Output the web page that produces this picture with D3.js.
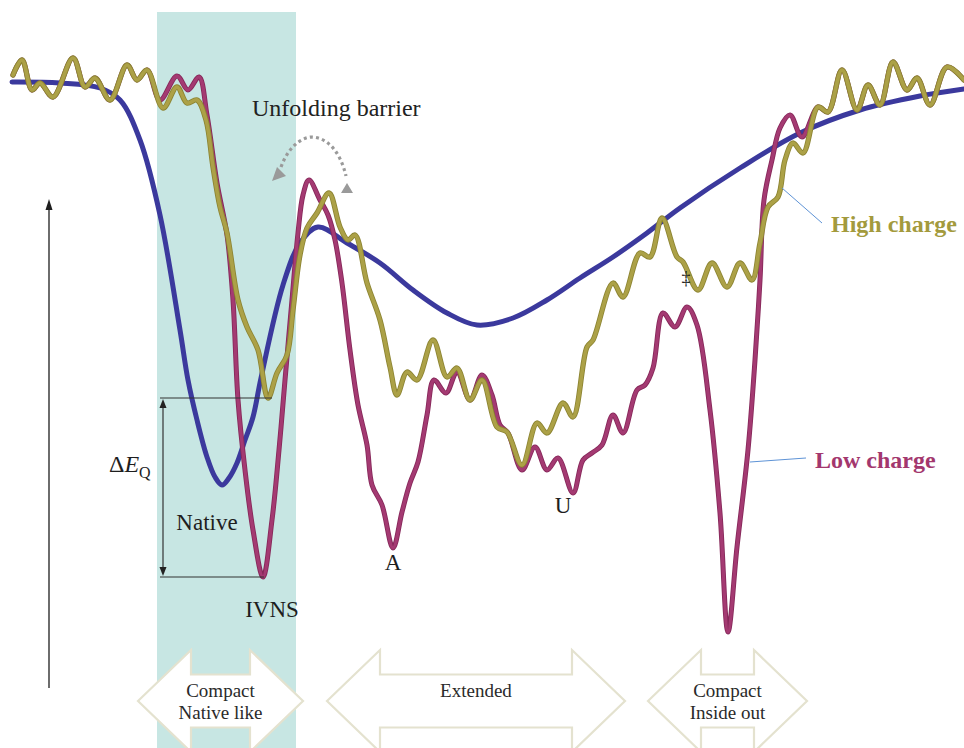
<!DOCTYPE html>
<html>
<head>
<meta charset="utf-8">
<script src="https://cdn.jsdelivr.net/npm/d3@7"></script>
<style>
  html, body { margin: 0; padding: 0; background: #ffffff; }
  svg { display: block; }
  text { font-family: "Liberation Serif", "DejaVu Serif", serif; }
</style>
</head>
<body>
<svg id="chart" width="964" height="748"></svg>
<script>
// Schematic energy landscape: reaction coordinate (x) vs energy (y), arbitrary units.

// Neutral protein landscape (smooth curve)
const neutralPath = [
  [1.2, 55.8], [6.0, 55.7], [10.0, 55.2], [12.0, 54.0], [14.0, 50.0], [16.0, 42.5],
  [18.0, 31.0], [18.8, 26.0], [19.7, 22.0], [20.7, 18.3], [21.5, 16.3], [22.2, 15.5],
  [22.9, 16.2], [23.7, 17.7], [24.5, 20.0], [25.3, 22.3], [26.1, 26.2], [28.3, 35.5],
  [30.0, 39.7], [31.8, 41.3], [34.7, 39.7], [38.0, 37.7], [41.3, 35.0], [44.7, 32.7],
  [47.7, 31.5], [51.3, 32.2], [54.7, 34.0], [58.0, 36.2], [61.3, 38.3], [64.7, 40.7],
  [68.0, 43.2], [74.0, 47.2], [80.0, 50.7], [86.0, 53.0], [92.0, 54.4], [96.4, 55.1]
];

// Rugged segment common to both charge states on the left (unfolded high-energy plateau)
const sharedStart = [
  [1.3, 56.5], [2.2, 58.0], [3.2, 55.0], [4.0, 55.7], [5.3, 54.3], [7.3, 58.2],
  [8.5, 55.3], [9.5, 56.2], [11.0, 54.0], [12.7, 57.5], [13.7, 56.0], [14.7, 57.0]
];

// Rugged segment common to both charge states on the right
const sharedEnd = [
  [81.8, 53.3], [82.8, 52.8], [84.2, 57.0], [85.7, 53.0], [86.8, 55.5], [88.0, 53.5],
  [89.3, 57.8], [90.7, 55.0], [91.7, 56.2], [93.0, 53.5], [94.7, 57.3], [96.4, 56.0]
];

// Low charge state: deep native well (IVNS), A and U states, inside-out well
const lowChargeMid = [
  [16.0, 54.0], [17.7, 56.4], [18.8, 55.0], [19.9, 56.3], [20.7, 52.5], [21.7, 45.7],
  [22.7, 40.5], [23.3, 34.0], [23.8, 24.0], [24.5, 17.0], [25.3, 11.0], [26.3, 6.3],
  [27.2, 12.0], [27.9, 19.0], [28.5, 26.0], [29.2, 34.0], [29.8, 40.7], [30.3, 44.5],
  [30.9, 46.0], [32.0, 44.0], [32.8, 42.5], [33.5, 40.0], [34.2, 35.7], [35.0, 29.0],
  [35.8, 23.5], [36.7, 19.5], [37.2, 15.5], [38.2, 13.5], [39.3, 9.2], [40.2, 12.8],
  [41.0, 15.7], [41.8, 17.8], [42.7, 22.5], [43.4, 26.0], [44.6, 24.7], [45.7, 26.8],
  [47.0, 24.0], [48.2, 26.5], [49.2, 24.5], [50.0, 21.5], [50.8, 20.7], [52.2, 17.0],
  [53.5, 19.3], [54.7, 17.0], [55.8, 18.2], [57.3, 14.7], [58.3, 18.0], [59.2, 18.7],
  [60.2, 19.5], [61.3, 22.5], [62.3, 20.7], [63.7, 25.0], [64.5, 25.5], [65.3, 27.2],
  [66.3, 32.7], [67.5, 31.3], [68.7, 33.3], [69.7, 31.5], [71.0, 23.0], [72.0, 12.7],
  [72.8, 0.8], [73.7, 9.3], [74.8, 19.0], [75.5, 28.0], [76.0, 36.0], [76.4, 44.0],
  [77.2, 48.0], [78.0, 51.2], [79.0, 52.5], [80.2, 50.3]
];

// High charge state: shallower native well, barrier, extended states
const highChargeMid = [
  [16.3, 53.2], [17.7, 55.3], [18.7, 53.7], [19.7, 54.0], [20.6, 52.0], [21.3, 47.3],
  [22.0, 43.3], [22.7, 40.7], [23.8, 34.0], [24.7, 31.3], [25.8, 29.0], [26.8, 24.2],
  [27.7, 26.7], [28.7, 28.5], [29.3, 33.0], [30.0, 38.5], [30.7, 41.2], [31.7, 42.7],
  [32.9, 44.7], [34.0, 41.3], [34.8, 40.0], [35.5, 40.5], [36.7, 35.7], [38.0, 32.0],
  [39.0, 27.3], [39.7, 24.5], [40.7, 26.8], [41.7, 26.0], [43.3, 30.0], [44.7, 26.3],
  [45.7, 27.2], [47.0, 24.0], [48.2, 26.0], [49.7, 21.3], [50.7, 20.8], [52.2, 17.5],
  [53.7, 21.7], [54.7, 20.7], [56.3, 23.7], [57.3, 22.3], [58.7, 29.3], [59.3, 30.0],
  [61.3, 35.7], [62.3, 34.3], [64.0, 38.7], [65.0, 38.3], [66.2, 42.2], [67.7, 38.3],
  [68.3, 37.8], [69.8, 35.0], [71.2, 37.7], [72.7, 35.3], [74.0, 37.7], [75.2, 36.0],
  [76.0, 39.7], [76.8, 43.3], [77.8, 44.3], [78.5, 48.0], [79.3, 49.7], [80.3, 48.7]
];

const lowCharge = [...sharedStart, ...lowChargeMid, ...sharedEnd];
const highCharge = [...sharedStart, ...highChargeMid, ...sharedEnd];

// Native-like region highlighted in the background
const nativeBand = [15.7, 29.6];

// Conformational families along the reaction coordinate
const regionLabels = [["Compact", "Native like"], ["Extended"], ["Compact", "Inside out"]];
const regionSpans = [[13.8, 30.3], [32.7, 62.5], [64.8, 80.7]];

// Labelled states: [label, x, energy]
const stateLabels = [["IVNS", 27.2, 2.3], ["A", 39.3, 7.0], ["U", 56.3, 12.7], ["Native", 20.7, 11.0]];

// ---------------------------------------------------------------------------
const svg = d3.select("#chart");
const W = 964, H = 748;

const x = d3.scaleLinear().domain([0, 96.4]).range([0, 964]);
const y = d3.scaleLinear().domain([0, 64]).range([640, 0]);

const colors = {
  neutral: "#3b399d",
  low: "#a43a72", lowEdge: "#86285a",
  high: "#aca147", highEdge: "#8c8432",
  band: "#c7e6e3",
  arrowEdge: "#e4e2cf",
  ink: "#1e1e1e",
  leader: "#5e93d6",
  dotted: "#9a9a9a"
};

// Background band for the native-like region
svg.append("rect")
  .attr("x", x(nativeBand[0]))
  .attr("y", 12)
  .attr("width", x(nativeBand[1]) - x(nativeBand[0]))
  .attr("height", H - 12)
  .attr("fill", colors.band);

// Double-headed block arrows naming the conformational families
const arrowY = 701, headHalf = 51, shaftHalf = 26.5, headLen = 53;
const regionG = svg.append("g");
regionSpans.forEach((span, i) => {
  const x0 = x(span[0]), x1 = x(span[1]);
  const pts = [
    [x0, arrowY], [x0 + headLen, arrowY - headHalf], [x0 + headLen, arrowY - shaftHalf],
    [x1 - headLen, arrowY - shaftHalf], [x1 - headLen, arrowY - headHalf], [x1, arrowY],
    [x1 - headLen, arrowY + headHalf], [x1 - headLen, arrowY + shaftHalf],
    [x0 + headLen, arrowY + shaftHalf], [x0 + headLen, arrowY + headHalf]
  ];
  regionG.append("path")
    .attr("d", "M" + pts.map(p => p.join(",")).join("L") + "Z")
    .attr("fill", "#ffffff")
    .attr("stroke", colors.arrowEdge)
    .attr("stroke-width", 2.2)
    .attr("stroke-linejoin", "miter");
  const lines = regionLabels[i];
  const cx = (x0 + x1) / 2;
  const baselines = lines.length === 2 ? [697, 719] : [697];
  lines.forEach((t, j) => {
    regionG.append("text")
      .attr("x", cx).attr("y", baselines[j])
      .attr("text-anchor", "middle")
      .attr("font-size", 19)
      .attr("fill", "#2a2a2a")
      .text(t);
  });
});

// Energy axis arrow
const axisG = svg.append("g");
axisG.append("line")
  .attr("x1", 49).attr("x2", 49)
  .attr("y1", 688).attr("y2", 206)
  .attr("stroke", colors.ink).attr("stroke-width", 1.3);
axisG.append("path")
  .attr("d", "M49,199L45.5,210L52.5,210Z")
  .attr("fill", colors.ink);

// Landscape curves
const line = d3.line()
  .x(d => x(d[0]))
  .y(d => y(d[1]))
  .curve(d3.curveCatmullRom.alpha(0.5));

const curvesG = svg.append("g").attr("fill", "none").attr("stroke-linecap", "round").attr("stroke-linejoin", "round");
curvesG.append("path").attr("d", line(neutralPath))
  .attr("stroke", colors.neutral).attr("stroke-width", 5);
curvesG.append("path").attr("d", line(lowCharge))
  .attr("stroke", colors.lowEdge).attr("stroke-width", 5);
curvesG.append("path").attr("d", line(lowCharge))
  .attr("stroke", colors.low).attr("stroke-width", 3.3);
curvesG.append("path").attr("d", line(highCharge))
  .attr("stroke", colors.highEdge).attr("stroke-width", 5.3);
curvesG.append("path").attr("d", line(highCharge))
  .attr("stroke", colors.high).attr("stroke-width", 3.6);

// Quantized energy gap between the two native minima
const inBand = d => d[0] >= nativeBand[0] && d[0] <= nativeBand[1];
const highMin = d3.least(highCharge.filter(inBand), d => d[1]);
const lowMin = d3.least(lowCharge.filter(inBand), d => d[1]);
const annG = svg.append("g");
const gapX = 163;
annG.append("line")
  .attr("x1", 160).attr("x2", x(highMin[0]) + 4)
  .attr("y1", y(highMin[1])).attr("y2", y(highMin[1]))
  .attr("stroke", "#333").attr("stroke-width", 1.2);
annG.append("line")
  .attr("x1", 160).attr("x2", x(lowMin[0]) + 1)
  .attr("y1", y(lowMin[1])).attr("y2", y(lowMin[1]))
  .attr("stroke", "#333").attr("stroke-width", 1.2);
annG.append("line")
  .attr("x1", gapX).attr("x2", gapX)
  .attr("y1", y(highMin[1]) + 8).attr("y2", y(lowMin[1]) - 8)
  .attr("stroke", "#333").attr("stroke-width", 1.2);
annG.append("path")
  .attr("d", `M${gapX},${y(highMin[1]) + 1}L${gapX - 3.5},${y(highMin[1]) + 10}L${gapX + 3.5},${y(highMin[1]) + 10}Z`)
  .attr("fill", "#222");
annG.append("path")
  .attr("d", `M${gapX},${y(lowMin[1]) - 1}L${gapX - 3.5},${y(lowMin[1]) - 10}L${gapX + 3.5},${y(lowMin[1]) - 10}Z`)
  .attr("fill", "#222");

const dE = annG.append("text")
  .attr("x", 109).attr("y", 472)
  .attr("font-size", 24)
  .attr("fill", colors.ink);
dE.append("tspan").text("Δ");
dE.append("tspan").attr("font-style", "italic").text("E");
dE.append("tspan").attr("font-size", 16).attr("dy", 6).text("Q");

// State labels
stateLabels.forEach(([t, sx, se]) => {
  svg.append("text")
    .attr("x", x(sx)).attr("y", y(se))
    .attr("text-anchor", "middle")
    .attr("font-size", 23)
    .attr("fill", colors.ink)
    .text(t);
});

// Transition state marker on the high-charge curve
svg.append("text")
  .attr("x", 686).attr("y", 284)
  .attr("text-anchor", "middle")
  .attr("font-size", 18)
  .attr("fill", colors.ink)
  .text("‡");

// Unfolding barrier annotation with dotted double arrow
svg.append("text")
  .attr("x", 252).attr("y", 116)
  .attr("font-size", 24)
  .attr("fill", "#222")
  .text("Unfolding barrier");

svg.append("path")
  .attr("d", "M281,167C288,148 300,138 311,137C326,137 340,150 346,176")
  .attr("fill", "none")
  .attr("stroke", colors.dotted)
  .attr("stroke-width", 3.2)
  .attr("stroke-dasharray", "3,3.2");
svg.append("path")
  .attr("d", "M272,181L277,167L286,176Z")
  .attr("fill", colors.dotted);
svg.append("path")
  .attr("d", "M347,183L341,193L353,193Z")
  .attr("fill", colors.dotted);

// Series labels with leader lines
svg.append("line")
  .attr("x1", 782).attr("y1", 188).attr("x2", 822).attr("y2", 223)
  .attr("stroke", colors.leader).attr("stroke-width", 1);
svg.append("text")
  .attr("x", 831).attr("y", 232)
  .attr("font-size", 24).attr("font-weight", "bold")
  .attr("fill", "#a39a3d")
  .text("High charge");

svg.append("line")
  .attr("x1", 750).attr("y1", 462).attr("x2", 806).attr("y2", 458)
  .attr("stroke", colors.leader).attr("stroke-width", 1);
svg.append("text")
  .attr("x", 815).attr("y", 468)
  .attr("font-size", 24).attr("font-weight", "bold")
  .attr("fill", "#a3376e")
  .text("Low charge");
</script>
</body>
</html>
